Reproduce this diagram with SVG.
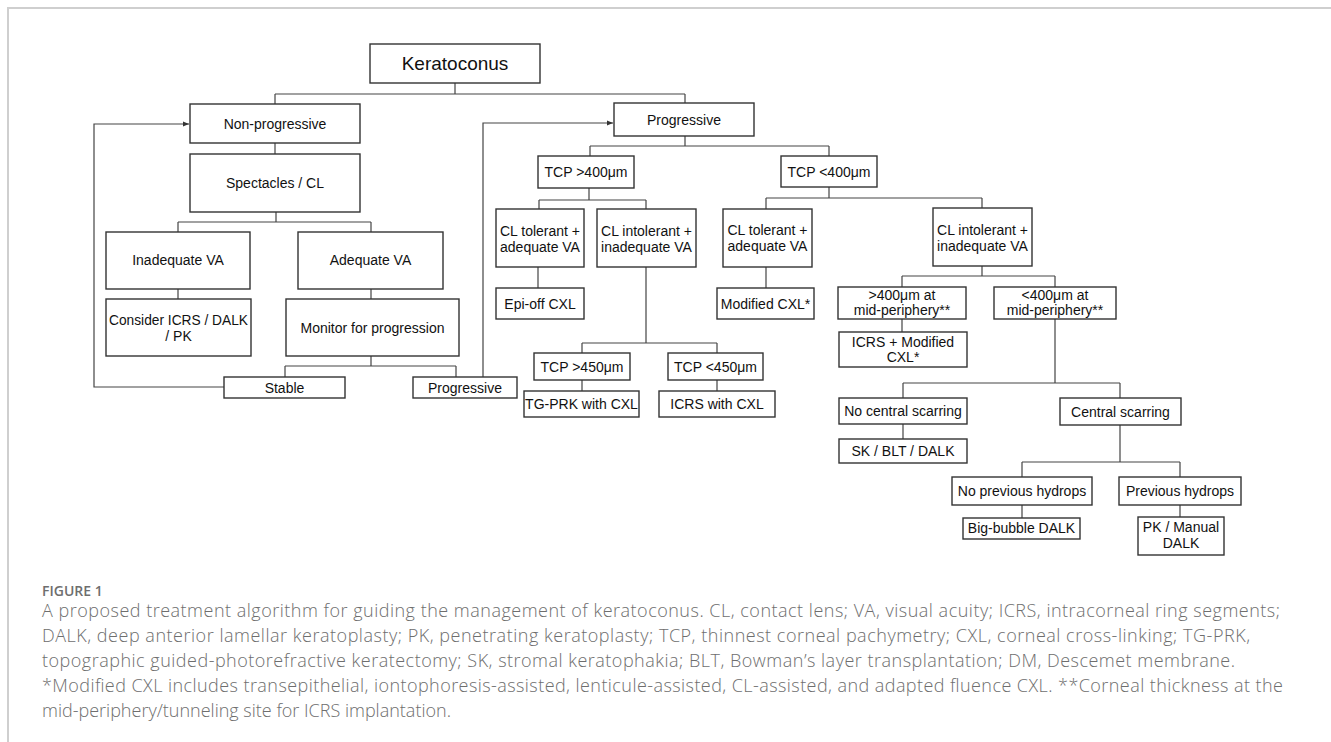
<svg xmlns="http://www.w3.org/2000/svg" width="1331" height="742" viewBox="0 0 1331 742">
<style>
.box{fill:#fff;stroke:#333;stroke-width:1.4}
.t{font-family:"Liberation Sans",Arial,sans-serif;font-size:14px;fill:#111;text-anchor:middle}
.big{font-size:19px}
.c{fill:none;stroke:#444;stroke-width:1.2}
.cap{font-family:"Open Sans","Liberation Sans",sans-serif;font-size:18px;font-weight:300;fill:#6e6e6e}
.fig{font-family:"Open Sans","Liberation Sans",sans-serif;font-size:14px;font-weight:600;fill:#6e6e6e}
</style>
<defs>
<marker id="arr" viewBox="0 0 10 10" refX="10" refY="5" markerWidth="6" markerHeight="6" orient="auto" markerUnits="userSpaceOnUse">
<path d="M0,1 L10,5 L0,9 z" fill="#333"/>
</marker>
</defs>
<rect width="1331" height="742" fill="#fff"/>
<path d="M8,742 V8 H1331" fill="none" stroke="#cfcfcf" stroke-width="2"/>

<g id="connectors">
<path class="c" d="M455,83 V94 M275,94 H685 M275,94 V104 M685,94 V103"/>
<path class="c" d="M275,143 V154"/>
<path class="c" d="M276,212 V222 M178,222 H371 M178,222 V232 M371,222 V232"/>
<path class="c" d="M178,289 V299 M371,289 V299"/>
<path class="c" d="M371,356 V366 M285,366 H456 M285,366 V377 M456,366 V377"/>
<path class="c" d="M224,387 H94 V124 H189" marker-end="url(#arr)"/>
<path class="c" d="M483,377 V123 H613" marker-end="url(#arr)"/>
<path class="c" d="M685,136 V146 M590,146 H829 M590,146 V156 M829,146 V156"/>
<path class="c" d="M589,188 V200 M539,200 H646 M539,200 V209 M646,200 V209"/>
<path class="c" d="M538,267 V288"/>
<path class="c" d="M646,267 V343 M582,343 H717 M582,343 V353 M717,343 V353"/>
<path class="c" d="M582,380 V391 M717,380 V391"/>
<path class="c" d="M829,187 V198 M766,198 H982 M766,198 V209 M982,198 V208"/>
<path class="c" d="M766,267 V288"/>
<path class="c" d="M982,266 V276 M902,276 H1055 M902,276 V287 M1055,276 V287"/>
<path class="c" d="M902,319 V332"/>
<path class="c" d="M1055,319 V383 M903,383 H1120 M903,383 V398 M1120,383 V398"/>
<path class="c" d="M903,424 V439"/>
<path class="c" d="M1120,425 V462 M1022,462 H1180 M1022,462 V477 M1180,462 V477"/>
<path class="c" d="M1022,505 V518 M1180,505 V517"/>
</g>

<g id="keratoconus"><rect class="box" x="370" y="44" width="170" height="39"/><text class="t big" x="455" y="70">Keratoconus</text></g>
<g id="nonprogressive"><rect class="box" x="190" y="104" width="170" height="39"/><text class="t" x="275" y="128.5">Non-progressive</text></g>
<g id="spectacles"><rect class="box" x="190" y="154" width="170" height="58"/><text class="t" x="275" y="188">Spectacles / CL</text></g>
<g id="inadequate-va"><rect class="box" x="106" y="232" width="144" height="57"/><text class="t" x="178" y="265">Inadequate VA</text></g>
<g id="adequate-va"><rect class="box" x="298" y="232" width="145" height="57"/><text class="t" x="370.5" y="265">Adequate VA</text></g>
<g id="consider"><rect class="box" x="106" y="299" width="145" height="57"/><text class="t" x="178.5" y="325" textLength="139" lengthAdjust="spacingAndGlyphs">Consider ICRS / DALK</text><text class="t" x="178.5" y="341">/ PK</text></g>
<g id="monitor"><rect class="box" x="286" y="299" width="173" height="57"/><text class="t" x="372.5" y="333">Monitor for progression</text></g>
<g id="stable"><rect class="box" x="224" y="377" width="121" height="21"/><text class="t" x="284.5" y="392.5">Stable</text></g>
<g id="progressive-loop"><rect class="box" x="413" y="377" width="104" height="21"/><text class="t" x="465" y="392.5">Progressive</text></g>
<g id="progressive"><rect class="box" x="614" y="103" width="140" height="33"/><text class="t" x="684" y="124.5">Progressive</text></g>
<g id="tcp-gt400"><rect class="box" x="538" y="156" width="96" height="32"/><text class="t" x="586" y="177">TCP &gt;400μm</text></g>
<g id="cl-tolerant-1"><rect class="box" x="496" y="209" width="88" height="58"/><text class="t" x="540" y="236">CL tolerant +</text><text class="t" x="540" y="252">adequate VA</text></g>
<g id="cl-intolerant-1"><rect class="box" x="597" y="209" width="99" height="58"/><text class="t" x="646.5" y="236">CL intolerant +</text><text class="t" x="646.5" y="252">inadequate VA</text></g>
<g id="epi-off"><rect class="box" x="496" y="288" width="88" height="31"/><text class="t" x="540" y="308.5">Epi-off CXL</text></g>
<g id="tcp-gt450"><rect class="box" x="534" y="353" width="96" height="27"/><text class="t" x="582" y="371.5">TCP &gt;450μm</text></g>
<g id="tcp-lt450"><rect class="box" x="668" y="353" width="95" height="27"/><text class="t" x="715.5" y="371.5">TCP &lt;450μm</text></g>
<g id="tg-prk"><rect class="box" x="524" y="391" width="115" height="26"/><text class="t" x="581.5" y="409">TG-PRK with CXL</text></g>
<g id="icrs-cxl"><rect class="box" x="659" y="391" width="116" height="26"/><text class="t" x="717" y="409">ICRS with CXL</text></g>
<g id="tcp-lt400"><rect class="box" x="781" y="156" width="96" height="31"/><text class="t" x="829" y="176.5">TCP &lt;400μm</text></g>
<g id="cl-tolerant-2"><rect class="box" x="723" y="209" width="89" height="58"/><text class="t" x="767.5" y="235">CL tolerant +</text><text class="t" x="767.5" y="251">adequate VA</text></g>
<g id="modified-cxl"><rect class="box" x="717" y="288" width="97" height="31"/><text class="t" x="765.5" y="308.5">Modified CXL*</text></g>
<g id="cl-intolerant-2"><rect class="box" x="933" y="208" width="99" height="58"/><text class="t" x="982.5" y="235">CL intolerant +</text><text class="t" x="982.5" y="251">inadequate VA</text></g>
<g id="gt400-mid"><rect class="box" x="838" y="287" width="128" height="32"/><text class="t" x="902" y="300">&gt;400μm at</text><text class="t" x="902" y="315">mid-periphery**</text></g>
<g id="lt400-mid"><rect class="box" x="994" y="287" width="122" height="32"/><text class="t" x="1055" y="300">&lt;400μm at</text><text class="t" x="1055" y="315">mid-periphery**</text></g>
<g id="icrs-modified"><rect class="box" x="839" y="332" width="128" height="35"/><text class="t" x="903" y="347">ICRS + Modified</text><text class="t" x="903" y="362">CXL*</text></g>
<g id="no-central-scarring"><rect class="box" x="839" y="398" width="128" height="26"/><text class="t" x="903" y="416">No central scarring</text></g>
<g id="sk-blt-dalk"><rect class="box" x="839" y="439" width="128" height="24"/><text class="t" x="903" y="456">SK / BLT / DALK</text></g>
<g id="central-scarring"><rect class="box" x="1060" y="398" width="121" height="27"/><text class="t" x="1120.5" y="416.5">Central scarring</text></g>
<g id="no-previous-hydrops"><rect class="box" x="952" y="477" width="140" height="28"/><text class="t" x="1022" y="496">No previous hydrops</text></g>
<g id="previous-hydrops"><rect class="box" x="1119" y="477" width="122" height="28"/><text class="t" x="1180" y="496">Previous hydrops</text></g>
<g id="big-bubble"><rect class="box" x="963" y="518" width="117" height="21"/><text class="t" x="1021.5" y="533">Big-bubble DALK</text></g>
<g id="pk-manual"><rect class="box" x="1138" y="517" width="86" height="38"/><text class="t" x="1181" y="532">PK / Manual</text><text class="t" x="1181" y="548">DALK</text></g>

<g id="caption">
<text class="fig" x="42" y="596">FIGURE 1</text>
<text class="cap" x="42" y="617" textLength="1238" lengthAdjust="spacing">A proposed treatment algorithm for guiding the management of keratoconus. CL, contact lens; VA, visual acuity; ICRS, intracorneal ring segments;</text>
<text class="cap" x="42" y="642" textLength="1208" lengthAdjust="spacing">DALK, deep anterior lamellar keratoplasty; PK, penetrating keratoplasty; TCP, thinnest corneal pachymetry; CXL, corneal cross-linking; TG-PRK,</text>
<text class="cap" x="42" y="667" textLength="1193" lengthAdjust="spacing">topographic guided-photorefractive keratectomy; SK, stromal keratophakia; BLT, Bowman’s layer transplantation; DM, Descemet membrane.</text>
<text class="cap" x="42" y="692" textLength="1241" lengthAdjust="spacing">*Modified CXL includes transepithelial, iontophoresis-assisted, lenticule-assisted, CL-assisted, and adapted fluence CXL. **Corneal thickness at the</text>
<text class="cap" x="42" y="717">mid-periphery/tunneling site for ICRS implantation.</text>
</g>
</svg>
